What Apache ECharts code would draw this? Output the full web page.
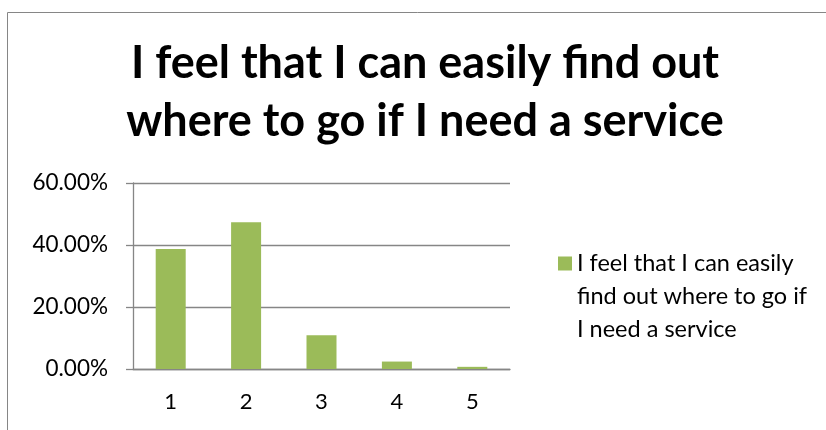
<!DOCTYPE html>
<html><head><meta charset="utf-8">
<script src="https://cdn.jsdelivr.net/npm/echarts@6/dist/echarts.min.js"></script>
<style>html,body{margin:0;padding:0;background:#fff}#c{width:826px;height:430px}</style>
</head><body><div id="c"></div>
<script>
const categories = ['1','2','3','4','5'];
const values = [38.7, 47.3, 10.9, 2.4, 0.7];
const seriesName = 'I feel that I can easily find out where to go if I need a service';
const titleText = 'I feel that I can easily find out\nwhere to go if I need a service';
const legendText = '\n\nI feel that I can easily\nfind out where to go if\nI need a service';
const yTicks = [0, 20, 40, 60];

const chart = echarts.init(document.getElementById('c'));
chart.setOption({
  animation: false,
  backgroundColor: '#fff',
  graphic: [{type:'rect', shape:{x:7.5,y:12.5,width:900,height:500}, style:{fill:'none', stroke:'#868686', lineWidth:1}}],
  title: {
    text: titleText, left: 425, textAlign: 'center', top: 34, padding: 0,
    textStyle: {fontFamily: 'Lato', fontWeight: 'bold', fontSize: 45, lineHeight: 58, color: '#000'}
  },
  grid: {left: 133, right: 316, top: 183, bottom: 61},
  legend: {
    data: [seriesName], orient: 'vertical', left: 553, top: 176,
    itemWidth: 14, itemHeight: 14, itemGap: 0,
    icon: 'rect',
    formatter: () => legendText,
    textStyle: {fontFamily: 'Lato', fontSize: 23.5, lineHeight: 33, color: '#000'}
  },
  xAxis: {
    type: 'category', data: categories,
    axisLine: {lineStyle: {color: '#868686', width: 1.3}},
    axisTick: {length: 7, lineStyle: {color: '#868686', width: 1.3}},
    axisLabel: {fontFamily: 'Lato', fontSize: 22, color: '#000', margin: 22}
  },
  yAxis: {
    type: 'value', min: 0, max: 60, interval: 20,
    axisLine: {show: true, lineStyle: {color: '#868686', width: 1.3}},
    axisTick: {show: true, length: 7, lineStyle: {color: '#868686', width: 1.3}},
    splitLine: {lineStyle: {color: '#868686', width: 1.3}},
    axisLabel: {fontFamily: 'Lato', fontSize: 22.5, color: '#000', margin: 25,
      formatter: v => v.toFixed(2) + '%'}
  },
  series: [{
    name: seriesName, type: 'bar', data: values, barWidth: 30,
    itemStyle: {color: '#9bbb59'}
  }]
});
</script></body></html>
